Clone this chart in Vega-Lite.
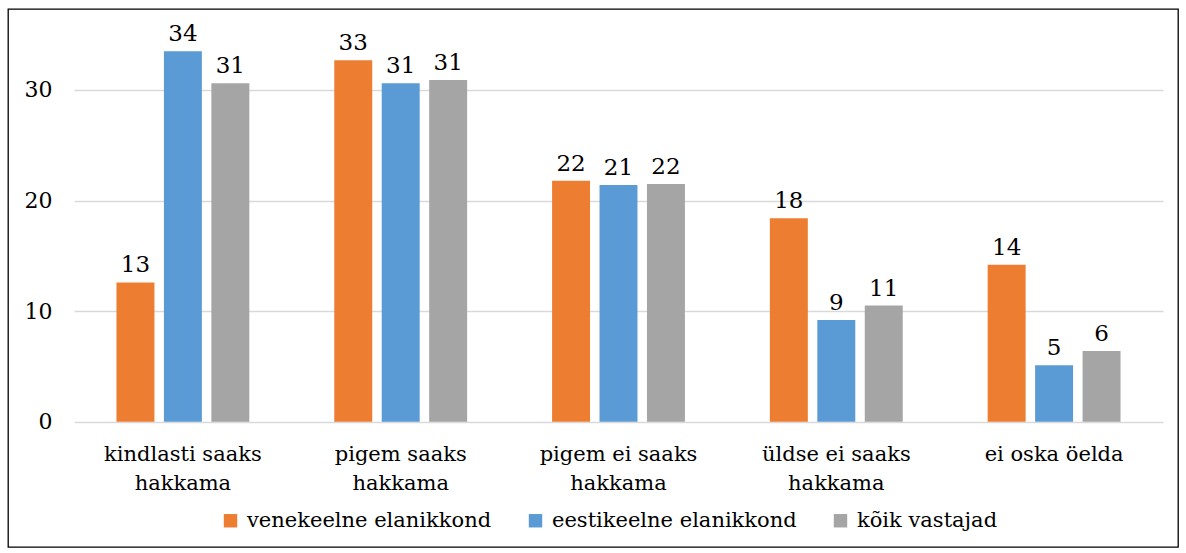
{
  "$schema": "https://vega.github.io/schema/vega-lite/v6.json",
  "width": 1170,
  "height": 538,
  "autosize": {"type": "none"},
  "padding": {"left": 8, "top": 9, "right": 8, "bottom": 6},
  "background": "white",
  "config": {
    "view": {"stroke": "#000000", "strokeWidth": 1.3},
    "font": "DejaVu Serif"
  },
  "data": {
    "values": [
      {"kategooria": "kindlasti saaks hakkama", "grupp": "venekeelne elanikkond", "vaartus": 12.6},
      {"kategooria": "kindlasti saaks hakkama", "grupp": "eestikeelne elanikkond", "vaartus": 33.5},
      {"kategooria": "kindlasti saaks hakkama", "grupp": "kõik vastajad", "vaartus": 30.6},
      {"kategooria": "pigem saaks hakkama", "grupp": "venekeelne elanikkond", "vaartus": 32.7},
      {"kategooria": "pigem saaks hakkama", "grupp": "eestikeelne elanikkond", "vaartus": 30.6},
      {"kategooria": "pigem saaks hakkama", "grupp": "kõik vastajad", "vaartus": 30.9},
      {"kategooria": "pigem ei saaks hakkama", "grupp": "venekeelne elanikkond", "vaartus": 21.8},
      {"kategooria": "pigem ei saaks hakkama", "grupp": "eestikeelne elanikkond", "vaartus": 21.4},
      {"kategooria": "pigem ei saaks hakkama", "grupp": "kõik vastajad", "vaartus": 21.5},
      {"kategooria": "üldse ei saaks hakkama", "grupp": "venekeelne elanikkond", "vaartus": 18.4},
      {"kategooria": "üldse ei saaks hakkama", "grupp": "eestikeelne elanikkond", "vaartus": 9.2},
      {"kategooria": "üldse ei saaks hakkama", "grupp": "kõik vastajad", "vaartus": 10.5},
      {"kategooria": "ei oska öelda", "grupp": "venekeelne elanikkond", "vaartus": 14.2},
      {"kategooria": "ei oska öelda", "grupp": "eestikeelne elanikkond", "vaartus": 5.1},
      {"kategooria": "ei oska öelda", "grupp": "kõik vastajad", "vaartus": 6.4}
    ]
  },
  "encoding": {
    "x": {
      "field": "kategooria",
      "type": "nominal",
      "sort": ["kindlasti saaks hakkama", "pigem saaks hakkama", "pigem ei saaks hakkama", "üldse ei saaks hakkama", "ei oska öelda"],
      "scale": {"range": [66, 1155], "paddingInner": 0.39, "paddingOuter": 0.195},
      "axis": {
        "title": null,
        "orient": "bottom",
        "offset": -104,
        "domain": false,
        "ticks": false,
        "tickSize": 0,
        "grid": false,
        "labelPadding": 0,
        "labelAngle": 0,
        "labelFont": "DejaVu Serif",
        "labelFontSize": 21,
        "labelColor": "#000000",
        "labelLimit": 0,
        "labelLineHeight": 29,
        "labelBaseline": "top",
        "labelExpr": "indexof(datum.label, ' hakkama') > 0 ? [replace(datum.label, ' hakkama', ''), 'hakkama'] : datum.label"
      }
    },
    "xOffset": {
      "field": "grupp",
      "type": "nominal",
      "sort": ["venekeelne elanikkond", "eestikeelne elanikkond", "kõik vastajad"],
      "scale": {"paddingInner": 0.2, "paddingOuter": 0}
    },
    "y": {
      "field": "vaartus",
      "type": "quantitative",
      "scale": {"domain": [0, 35], "range": [412.7, 25.7], "nice": false, "zero": true},
      "axis": {
        "title": null,
        "values": [0, 10, 20, 30],
        "offset": -44,
        "domain": false,
        "ticks": false,
        "tickSize": 0,
        "labelPadding": 0,
        "labelFont": "DejaVu Serif",
        "labelFontSize": 22,
        "labelColor": "#000000",
        "grid": true,
        "gridColor": "#D9D9D9",
        "gridWidth": 1.3
      }
    }
  },
  "layer": [
    {
      "mark": {"type": "bar"},
      "encoding": {
        "color": {
          "field": "grupp",
          "type": "nominal",
          "sort": ["venekeelne elanikkond", "eestikeelne elanikkond", "kõik vastajad"],
          "scale": {
            "domain": ["venekeelne elanikkond", "eestikeelne elanikkond", "kõik vastajad"],
            "range": ["#ED7D31", "#5B9BD5", "#A5A5A5"]
          },
          "legend": {
            "title": null,
            "orient": "none",
            "direction": "horizontal",
            "legendX": 212,
            "legendY": 501,
            "padding": 0,
            "symbolType": "square",
            "symbolSize": 180,
            "symbolStrokeWidth": 0,
            "symbolOpacity": 1,
            "labelFont": "DejaVu Serif",
            "labelFontSize": 21,
            "labelColor": "#000000",
            "labelOffset": 6,
            "labelLimit": 0,
            "columnPadding": 33
          }
        }
      }
    },
    {
      "mark": {"type": "text", "baseline": "alphabetic", "dy": -10, "fontSize": 23, "font": "DejaVu Serif", "color": "#000000"},
      "encoding": {
        "text": {"field": "vaartus", "type": "quantitative", "format": ".0f"}
      }
    }
  ]
}
